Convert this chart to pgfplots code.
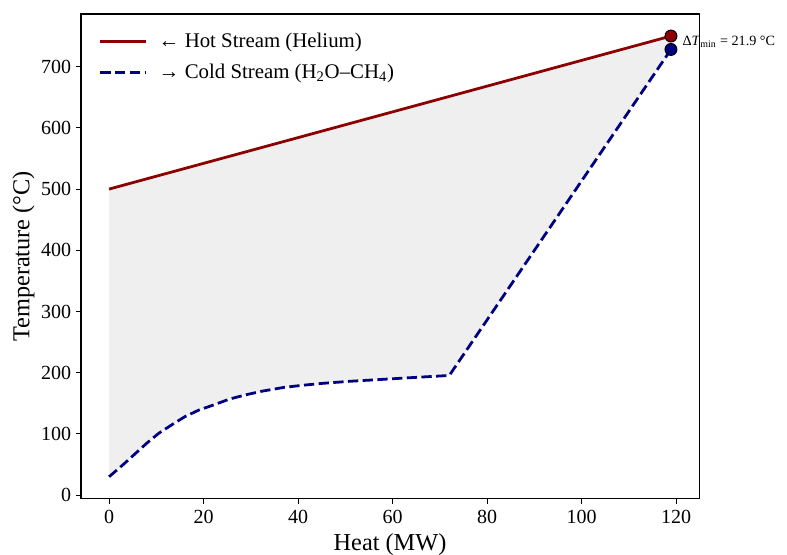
\documentclass[border=0pt]{standalone}
\usepackage{fontspec}
\setmainfont{Liberation Serif}
\usepackage{pgfplots}
\pgfplotsset{compat=1.18}
\definecolor{hotred}{HTML}{8B0000}
\definecolor{coldblue}{HTML}{000080}
\definecolor{fillgray}{HTML}{EFEFEF}
\begin{document}
\begin{tikzpicture}
\useasboundingbox (-58.3pt,-40.3pt) rectangle (508.3pt,359.1pt);
\begin{axis}[
  at={(0,0)}, anchor=south west,
  scale only axis, width=445pt, height=349pt,
  xmin=-5.95, xmax=124.85, ymin=-6, ymax=786,
  xtick={0,20,...,120}, ytick={0,100,...,700},
  xtick pos=bottom, ytick pos=left, tick align=outside,
  major tick length=3.5pt,
  every tick/.style={black, line width=0.8pt},
  axis line style={black, line width=0.8pt},
  /pgf/number format/assume math mode=true,
  ticklabel style={font=\fontsize{14.4}{16}\selectfont},
  xticklabel style={yshift=-1.5pt},
  xlabel={Heat (MW)}, ylabel={Temperature (°C)},
  label style={font=\fontsize{17.5}{20}\selectfont},
  xlabel style={yshift=0pt},
  ylabel style={yshift=-2pt},
  legend style={draw=none, fill=none, at={(0.022,0.972)}, anchor=north west,
    font=\fontsize{15}{18}\selectfont, row sep=6pt,
    /tikz/every odd column/.append style={column sep=6pt}},
  legend cell align=left,
  legend image code/.code={\draw[#1] (0pt,0pt) -- (33pt,0pt);},
  clip=false,
]
\addplot[fill=fillgray, draw=none, forget plot] coordinates {
 (0,500) (118.9,750) (118.9,728.1) (72,195.5) (63,191.5) (56.5,188.5) (51,186)
 (45,182.5) (41,179.5) (37,176) (32.5,170) (29,164) (25.5,157) (22,147) (19,139)
 (16,128) (13.5,116) (10.5,101) (8,85) (6,71) (3,50) (0,30)
} -- cycle;
\addplot[hotred, line width=2pt, forget plot] coordinates {(0,500) (118.9,750)};
\addplot[coldblue, line width=2pt, dash pattern=on 7.4pt off 3.2pt, forget plot] coordinates {
 (0,30) (3,50) (6,71) (8,85) (10.5,101) (13.5,116) (16,128) (19,139) (22,147)
 (25.5,157) (29,164) (32.5,170) (37,176) (41,179.5) (45,182.5) (51,186)
 (56.5,188.5) (63,191.5) (72,195.5) (118.9,728.1)
};
\addlegendimage{hotred, line width=2pt}
\addlegendentry{← Hot Stream (Helium)}
\addlegendimage{coldblue, line width=2pt, dash pattern=on 7.4pt off 3.2pt}
\addlegendentry{→ Cold Stream (H\textsubscript{2}O–CH\textsubscript{4})}
\addplot[black, thin, dashed, forget plot] coordinates {(118.9,728.1) (118.9,750)};
\addplot[only marks, mark=*, mark size=4.3pt, mark options={fill=hotred, draw=black, line width=0.7pt}, forget plot] coordinates {(118.9,750)};
\addplot[only marks, mark=*, mark size=4.3pt, mark options={fill=coldblue, draw=black, line width=0.7pt}, forget plot] coordinates {(118.9,728.1)};
\node[anchor=west, font=\fontsize{10.2}{12}\selectfont, inner sep=0pt] at (axis cs:121.3,741) {Δ\textit{T}\textsubscript{min} = 21.9 °C};
\end{axis}
\end{tikzpicture}
\end{document}
